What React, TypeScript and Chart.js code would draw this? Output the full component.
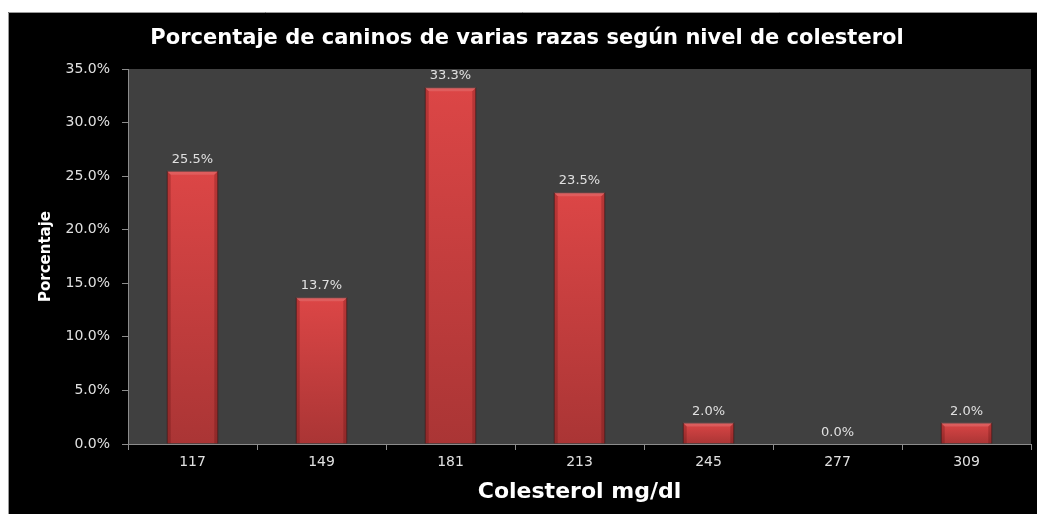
import React, { useEffect, useRef } from "react";
import { Chart, registerables } from "chart.js";

Chart.register(...registerables);

const categories = ["117", "149", "181", "213", "245", "277", "309"];
const percentages = [25.5, 13.7, 33.3, 23.5, 2.0, 0.0, 2.0];
const yMax = 35;
const yStep = 5;
const chartTitle = "Porcentaje de caninos de varias razas según nivel de colesterol";
const xTitle = "Colesterol mg/dl";
const yTitle = "Porcentaje";

const FONT = "'DejaVu Sans', sans-serif";

const bgPlugin = {
  id: "bgPlugin",
  beforeDraw(chart: any) {
    const { ctx, width, height, chartArea } = chart;
    ctx.save();
    ctx.fillStyle = "#000000";
    ctx.fillRect(0, 0, width, height);
    ctx.strokeStyle = "#9a9a9a";
    ctx.lineWidth = 1;
    ctx.beginPath();
    ctx.moveTo(0.5, height);
    ctx.lineTo(0.5, 0.5);
    ctx.lineTo(width, 0.5);
    ctx.stroke();
    ctx.fillStyle = "#404040";
    ctx.fillRect(chartArea.left, chartArea.top, chartArea.right - chartArea.left, chartArea.bottom - chartArea.top);
    // title
    ctx.font = `bold 21px ${FONT}`;
    ctx.fillStyle = "#ffffff";
    ctx.textAlign = "center";
    ctx.textBaseline = "middle";
    ctx.fillText(chartTitle, 519, 27);
    ctx.restore();
  },
};

const labelPlugin = {
  id: "labelPlugin",
  afterDatasetsDraw(chart: any) {
    const { ctx } = chart;
    const meta = chart.getDatasetMeta(0);
    ctx.save();
    meta.data.forEach((bar: any, i: number) => {
      const h = bar.base - bar.y;
      const half = bar.width / 2;
      const l = bar.x - half;
      const r = bar.x + half;
      if (h > 2) {
        const bev = Math.min(4, h / 2);
        ctx.fillStyle = "rgba(255,255,255,0.13)";
        ctx.beginPath();
        ctx.moveTo(l, bar.y);
        ctx.lineTo(r, bar.y);
        ctx.lineTo(r - bev, bar.y + bev);
        ctx.lineTo(l + bev, bar.y + bev);
        ctx.closePath();
        ctx.fill();
        ctx.fillStyle = "rgba(60,0,0,0.22)";
        ctx.beginPath();
        ctx.moveTo(l, bar.y);
        ctx.lineTo(l + bev, bar.y + bev);
        ctx.lineTo(l + bev, bar.base);
        ctx.lineTo(l, bar.base);
        ctx.closePath();
        ctx.fill();
        ctx.beginPath();
        ctx.moveTo(r, bar.y);
        ctx.lineTo(r - bev, bar.y + bev);
        ctx.lineTo(r - bev, bar.base);
        ctx.lineTo(r, bar.base);
        ctx.closePath();
        ctx.fill();
      }
    });
    ctx.font = `13px ${FONT}`;
    ctx.fillStyle = "#e0e0e0";
    ctx.textAlign = "center";
    ctx.textBaseline = "alphabetic";
    meta.data.forEach((bar: any, i: number) => {
      const v = chart.data.datasets[0].data[i] as number;
      ctx.fillText(v.toFixed(1) + "%", bar.x, bar.y - 8);
    });
    ctx.restore();
  },
};

export default function App() {
  const ref = useRef<HTMLCanvasElement>(null);
  useEffect(() => {
    document.documentElement.style.overflow = "hidden";
    const canvas = ref.current!;
    const chart = new Chart(canvas, {
      type: "bar",
      data: {
        labels: categories,
        datasets: [
          {
            data: percentages,
            backgroundColor: (c: any) => {
              const ch = c.chart;
              const y = ch.scales?.y;
              if (!ch.chartArea || !y || c.parsed == null) return "#cc3f3f";
              const top = y.getPixelForValue(c.parsed.y);
              const bottom = y.getPixelForValue(0);
              if (!isFinite(top) || bottom - top < 1) return "#cc3f3f";
              const g = ch.ctx.createLinearGradient(0, top, 0, bottom);
              g.addColorStop(0, "#dc4646");
              g.addColorStop(1, "#aa3535");
              return g;
            },
            borderColor: "rgba(100,15,15,0.6)",
            borderWidth: 1,
            categoryPercentage: 1,
            barPercentage: 0.4,
          },
        ],
      },
      options: {
        animation: false,
        responsive: false,
        maintainAspectRatio: false,
        layout: { padding: { left: 0, right: 6, top: 57, bottom: 0 } },
        plugins: {
          legend: { display: false },
          tooltip: { enabled: false },
          title: { display: false },
        },
        scales: {
          x: {
            afterFit: (s: any) => {
              s.height = 70;
            },
            grid: {
              display: true,
              drawOnChartArea: false,
              drawTicks: true,
              tickLength: 6,
              color: "#8c8c8c",
            },
            border: { display: true, color: "#8c8c8c" },
            ticks: {
              color: "#e0e0e0",
              font: { family: FONT, size: 14 },
              padding: 4,
              maxRotation: 0,
            },
            title: {
              display: true,
              text: xTitle,
              color: "#ffffff",
              font: { family: FONT, size: 22, weight: "bold" },
              padding: { top: 0, bottom: 9 },
            },
          },
          y: {
            min: 0,
            max: yMax,
            afterFit: (s: any) => {
              s.width = 120;
            },
            grid: {
              display: true,
              drawOnChartArea: false,
              drawTicks: true,
              tickLength: 6,
              color: "#8c8c8c",
            },
            border: { display: true, color: "#8c8c8c" },
            ticks: {
              stepSize: yStep,
              color: "#e0e0e0",
              font: { family: FONT, size: 14 },
              padding: 12,
              callback: (v: any) => Number(v).toFixed(1) + "%",
            },
            title: {
              display: true,
              text: yTitle,
              color: "#ffffff",
              font: { family: FONT, size: 15, weight: "bold" },
              padding: { top: 29, bottom: 0 },
            },
          },
        },
      },
      plugins: [bgPlugin, labelPlugin],
    });
    return () => chart.destroy();
  }, []);
  return (
    <div style={{ position: "fixed", left: 8, top: 12 }}>
      <canvas ref={ref} width={1029} height={502} style={{ display: "block" }} />
    </div>
  );
}
